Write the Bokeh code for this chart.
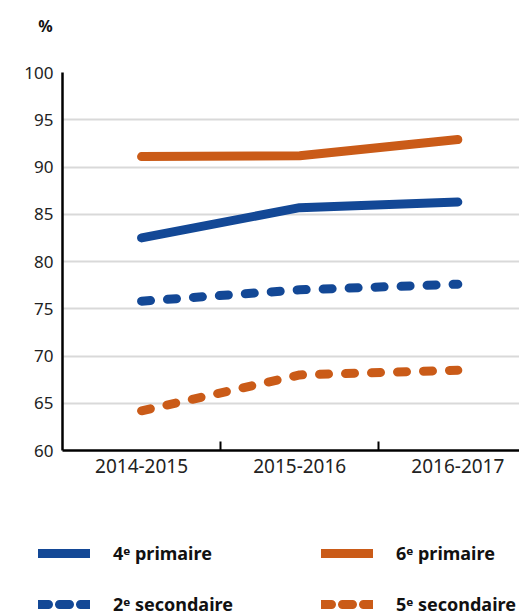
from bokeh.plotting import figure
from bokeh.models import Range1d, FixedTicker, Legend, LegendItem, Label
from bokeh.layouts import column
from bokeh.embed import file_html
from bokeh.resources import INLINE

years = ["2014-2015", "2015-2016", "2016-2017"]
x_pos = [0, 1, 2]
p4_primaire = [82.5, 85.7, 86.3]
p6_primaire = [91.1, 91.2, 92.9]
s2_secondaire = [75.8, 77.0, 77.6]
s5_secondaire = [64.2, 68.0, 68.5]
y_ticks = [60, 65, 70, 75, 80, 85, 90, 95, 100]
series_labels = ["4ᵉ primaire", "2ᵉ secondaire", "6ᵉ primaire", "5ᵉ secondaire"]
unit_label = "%"

BLUE = "#134896"
ORANGE = "#ca5b18"
FONT = "Noto Sans"
W = 9
DASH = "9 17"


def blank(h):
    f = figure(width=519, height=h, output_backend="svg", toolbar_location=None,
               x_range=Range1d(0, 519), y_range=Range1d(0, h),
               min_border_left=0, min_border_right=0, min_border_top=0,
               min_border_bottom=0, frame_align=False)
    f.outline_line_color = None
    f.axis.visible = False
    f.grid.visible = False
    f.title.visible = False
    return f


# top strip with the unit
r = blank(44)
r.add_layout(Label(x=45, y=19, text=unit_label, text_font=FONT, text_font_size="16px",
                   text_font_style="bold", text_align="center", text_baseline="middle",
                   text_color="#111111"))

# main chart
p = figure(width=519, height=476, output_backend="svg", toolbar_location=None,
           x_range=Range1d(-0.5, 2.39), y_range=Range1d(60, 100),
           min_border_left=62, min_border_right=0, min_border_top=28,
           min_border_bottom=70, frame_align=False)
p.outline_line_color = None
p.title.visible = False

p.xaxis.ticker = FixedTicker(ticks=x_pos, minor_ticks=[0.5, 1.5])
p.xaxis.major_label_overrides = {i: y for i, y in zip(x_pos, years)}
p.xaxis.major_tick_in = 0
p.xaxis.major_tick_out = 0
p.xaxis.minor_tick_in = 9
p.xaxis.minor_tick_out = 0
p.xaxis.minor_tick_line_width = 2
p.xaxis.minor_tick_line_color = "black"
p.xaxis.axis_line_width = 2.5
p.xaxis.axis_line_color = "black"
p.xaxis.major_label_text_font = FONT
p.xaxis.major_label_text_font_size = "19px"
p.xaxis.major_label_text_color = "#222222"
p.xaxis.major_label_standoff = 8

p.yaxis.ticker = FixedTicker(ticks=y_ticks)
p.yaxis.major_tick_in = 0
p.yaxis.major_tick_out = 0
p.yaxis.minor_tick_line_color = None
p.yaxis.axis_line_width = 2.5
p.yaxis.axis_line_color = "black"
p.yaxis.major_label_text_font = FONT
p.yaxis.major_label_text_font_size = "17px"
p.yaxis.major_label_text_color = "#222222"
p.yaxis.major_label_standoff = 9

p.xgrid.grid_line_color = None
p.ygrid.grid_line_color = "#d9d9d9"
p.ygrid.grid_line_width = 2

series = [p4_primaire, s2_secondaire, p6_primaire, s5_secondaire]
styles = [(BLUE, "solid"), (BLUE, DASH), (ORANGE, "solid"), (ORANGE, DASH)]
for vals, (col, dash) in zip(series, styles):
    p.line(x_pos, vals, line_color=col, line_width=W, line_cap="round",
           line_join="round", line_dash=dash)

# legend strip (its lines lie outside its visible ranges; only the legend shows)
q = blank(96)
items = []
for lab, vals, (col, dash) in zip(series_labels, series, styles):
    rr = q.line([x + 1000 for x in x_pos], vals, line_color=col, line_width=W,
                line_cap="round", line_dash=("solid" if dash == "solid" else "10 11"))
    items.append(LegendItem(label=lab, renderers=[rr]))

legend = Legend(items=items, location=(38, 0), ncols=2)
legend.padding = 0
legend.margin = 0
legend.border_line_color = None
legend.background_fill_alpha = 0
legend.glyph_width = 52
legend.glyph_height = 10
legend.label_height = 10
legend.spacing = 27
legend.label_standoff = 23
legend.label_width = 181
legend.label_text_font = FONT
legend.label_text_font_size = "18px"
legend.label_text_font_style = "bold"
legend.label_text_color = "#111111"
q.add_layout(legend, "center")

layout = column(r, p, q, spacing=0)
open("out.html", "w").write(file_html(layout, INLINE))
